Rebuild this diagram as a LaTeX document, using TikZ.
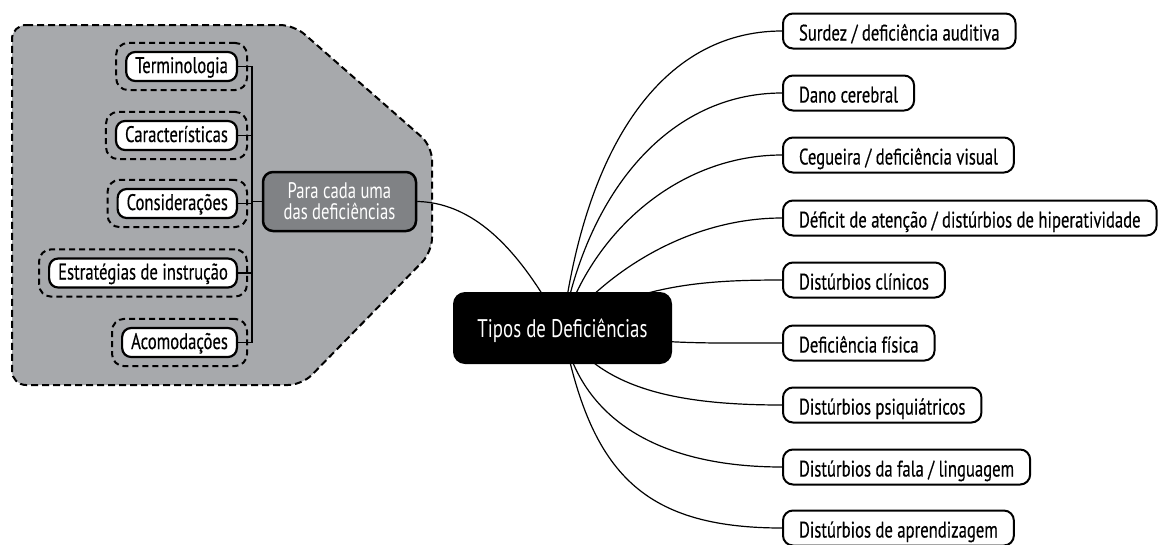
\documentclass[tikz,border=0pt]{standalone}
\usepackage{fontspec}
\setmainfont{PT Sans}[FakeStretch=0.74]
\newfontfamily\boxfont{PT Sans}[FakeStretch=0.74,FakeBold=0.35]
\usetikzlibrary{fit,backgrounds}
\definecolor{regiongray}{RGB}{167,169,172}
\definecolor{paragray}{RGB}{128,130,133}
\begin{document}
\begin{tikzpicture}[x=1pt,y=-1pt,
  catbox/.style={draw=black, line width=2pt, rounded corners=10pt, fill=white,
    anchor=west, minimum height=35pt, inner xsep=16pt, inner ysep=0pt,
    font=\boxfont\fontsize{22.5}{24}\selectfont, text height=19pt, text depth=0pt},
  leafbox/.style={draw=black, line width=2.2pt, rounded corners=9pt, fill=white,
    anchor=east, minimum height=29pt, inner xsep=9pt, inner ysep=0pt,
    font=\boxfont\fontsize{22.5}{24}\selectfont, text height=17pt, text depth=4pt},
  dashbox/.style={draw=black, line width=2pt, rounded corners=12pt,
    dash pattern=on 6pt off 4pt, inner xsep=9pt, inner ysep=8pt},
  parabox/.style={draw=black, line width=2.5pt, rounded corners=10pt, fill=paragray,
    text=white, align=center, minimum width=153pt, minimum height=59pt,
    inner sep=0pt, font=\fontsize{22.5}{21}\selectfont},
  rootbox/.style={fill=black, rounded corners=12pt, text=white,
    minimum width=219pt, minimum height=72pt, inner sep=0pt,
    font=\fontsize{25.5}{26}\selectfont, text height=18pt, text depth=0pt},
  region/.style={draw=black, line width=2pt, dash pattern=on 7pt off 4pt,
    fill=regiongray, rounded corners=14pt},
  link/.style={draw=black, line width=1.2pt},
]
\useasboundingbox (0,0) rectangle (1159,544);

% root
\node[rootbox] (T) at (562.5,328) {Tipos de Deficiências};

% right categories
\node[catbox] (r1) at (782,31) {Surdez / deficiência auditiva};
\node[catbox] (r2) at (782,93) {Dano cerebral};
\node[catbox] (r3) at (782,155) {Cegueira / deficiência visual};
\node[catbox] (r4) at (782,218) {Déficit de atenção / distúrbios de hiperatividade};
\node[catbox] (r5) at (782,280) {Distúrbios clínicos};
\node[catbox] (r6) at (782,343) {Deficiência física};
\node[catbox] (r7) at (782,405) {Distúrbios psiquiátricos};
\node[catbox] (r8) at (782,467) {Distúrbios da fala / linguagem};
\node[catbox] (r9) at (782,528) {Distúrbios de aprendizagem};

% left group
\node[parabox] (P) at (339.5,201.5) {Para cada uma\\das deficiências};
\node[leafbox] (l1) at (238,66.5) {Terminologia};
\node[leafbox] (l2) at (238,135.5) {Características};
\node[leafbox] (l3) at (238,203.5) {Considerações};
\node[leafbox] (l4) at (238,273) {Estratégias de instrução};
\node[leafbox] (l5) at (238,342.5) {Acomodações};
\foreach \n in {l1,l2,l3,l4,l5}{
  \node[dashbox, fit=(\n)] (\n d) {};
}
\coordinate (sp) at (252,203);
\draw[link] (l1.east) -- (l1.east -| sp) -- (l5.east -| sp) -- (l5.east);
\draw[link] (l2.east) -- (l2.east -| sp);
\draw[link] (l3.east) -- (l3.east -| sp);
\draw[link] (l4.east) -- (l4.east -| sp);
\draw[link] (P.west) -- (P.west -| sp);

\begin{scope}[on background layer]
  \draw[region] (12,25) -- (294,25) -- (432,146) -- (432,252) -- (302,385) -- (12,385) -- cycle;
  \draw[link] (P.east) .. controls (490,203) and (535,280) .. (T.center);
  \draw[link] (T.center) .. controls (585,150) and (660,31) .. (r1.west);
  \draw[link] (T.center) .. controls (588,190) and (670,93) .. (r2.west);
  \draw[link] (T.center) .. controls (593,230) and (680,155) .. (r3.west);
  \draw[link] (T.center) .. controls (608,270) and (690,218) .. (r4.west);
  \draw[link] (T.center) .. controls (640,285) and (700,280) .. (r5.west);
  \draw[link] (T.center) .. controls (650,345) and (700,343) .. (r6.west);
  \draw[link] (T.center) .. controls (600,390) and (680,405) .. (r7.west);
  \draw[link] (T.center) .. controls (580,420) and (660,467) .. (r8.west);
  \draw[link] (T.center) .. controls (590,470) and (640,528) .. (r9.west);
\end{scope}
\end{tikzpicture}
\end{document}
